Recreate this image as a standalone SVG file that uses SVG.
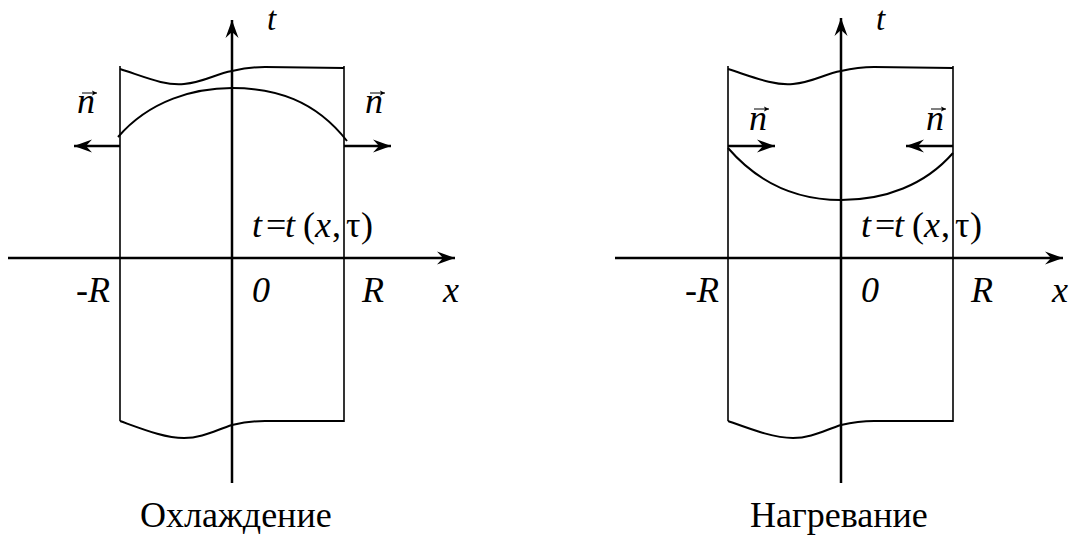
<svg xmlns="http://www.w3.org/2000/svg" width="1073" height="538" viewBox="0 0 1073 538">
<style>
.ax{stroke:#000;stroke-width:2.5;fill:none}
.wall{stroke:#000;stroke-width:1.6;fill:none}
.cur{stroke:#000;stroke-width:2;fill:none}
.vec{stroke:#000;stroke-width:2.5;fill:none}
.t{font-family:"Liberation Serif","Times New Roman",serif;font-size:36px;fill:#000}
.s{font-size:33px}
.i{font-style:italic}
.nv{stroke:#000;stroke-width:1;fill:none}
</style>
<defs>
<marker id="ah" markerUnits="userSpaceOnUse" viewBox="-18 -7 19 14" refX="0" refY="0" markerWidth="19" markerHeight="14" orient="auto">
<path d="M0,0 L-18,-6.5 L-12,0 L-18,6.5 Z" fill="#000"/>
</marker>
<marker id="sh" markerUnits="userSpaceOnUse" viewBox="-6 -3 7 6" refX="0" refY="0" markerWidth="7" markerHeight="6" orient="auto">
<path d="M0,0 L-5,-2.5 L-4,0 L-5,2.5 Z" fill="#000"/>
</marker>
</defs>
<g id="cooling">
<g id="cooling-body">
<path class="wall" d="M120,66 L120,421"/>
<path class="wall" d="M344,66 L344,422"/>
<path class="cur" d="M120,69 C145,77 165,86 184,84 C205,82 215,74 232,71 C245,68 252,67 265,67 L344,68"/>
<path class="cur" d="M120,421 C145,430 165,438 184,438 C202,438 216,430 232,425 C245,422 252,421 265,421 L344,421"/>
<path class="cur" d="M118,137 C150,100 195,88 232,88 C275,88 315,100 347,141"/>
</g>
<g id="cooling-axes">
<path class="ax" d="M232,483 L232,20" marker-end="url(#ah)"/>
<path class="ax" d="M8,258 L455,258" marker-end="url(#ah)"/>
</g>
<g id="cooling-normals">
<path class="vec" d="M120,146 L74,146" marker-end="url(#ah)"/>
<path class="vec" d="M344,146 L391,146" marker-end="url(#ah)"/>
<path class="nv" d="M82,93 L97,93" marker-end="url(#sh)"/>
<path class="nv" d="M370,93 L385,93" marker-end="url(#sh)"/>
<text class="t i" x="77" y="113">n</text>
<text class="t i" x="365" y="113">n</text>
</g>
<g id="cooling-labels">
<text class="t s i" x="267" y="30">t</text>
<text class="t"><tspan class="i" x="252" y="237">t</tspan><tspan x="266">=</tspan><tspan class="i" x="285">t</tspan><tspan x="303">(</tspan><tspan class="i" x="315">x</tspan><tspan x="332">,</tspan><tspan x="346">τ</tspan><tspan x="361">)</tspan></text>
<text class="t i" x="76" y="302">-R</text>
<text class="t i" x="252" y="302">0</text>
<text class="t i" x="362" y="302">R</text>
<text class="t i" x="443" y="302">x</text>
<text class="t" x="140" y="527">Охлаждение</text>
</g>
</g>
<g id="heating">
<g id="heating-body">
<path class="wall" d="M728,66 L728,421"/>
<path class="wall" d="M953,66 L953,422"/>
<path class="cur" d="M728,69 C753,77 774,86 793,84 C814,82 824,74 841,71 C854,68 861,67 874,67 L953,68"/>
<path class="cur" d="M728,421 C753,430 774,438 793,438 C811,438 825,430 841,425 C854,422 861,421 874,421 L953,421"/>
<path class="cur" d="M728,148 C760,185 800,200 841,200 C885,200 925,185 953,153"/>
</g>
<g id="heating-axes">
<path class="ax" d="M841,483 L841,18" marker-end="url(#ah)"/>
<path class="ax" d="M615,258 L1063,258" marker-end="url(#ah)"/>
</g>
<g id="heating-normals">
<path class="vec" d="M728,146 L775,146" marker-end="url(#ah)"/>
<path class="vec" d="M953,146 L906,146" marker-end="url(#ah)"/>
<path class="nv" d="M754,109 L769,109" marker-end="url(#sh)"/>
<path class="nv" d="M931,109 L946,109" marker-end="url(#sh)"/>
<text class="t i" x="749" y="130">n</text>
<text class="t i" x="926" y="130">n</text>
</g>
<g id="heating-labels">
<text class="t s i" x="876" y="30">t</text>
<text class="t"><tspan class="i" x="861" y="237">t</tspan><tspan x="875">=</tspan><tspan class="i" x="894">t</tspan><tspan x="912">(</tspan><tspan class="i" x="924">x</tspan><tspan x="941">,</tspan><tspan x="955">τ</tspan><tspan x="970">)</tspan></text>
<text class="t i" x="685" y="302">-R</text>
<text class="t i" x="861" y="302">0</text>
<text class="t i" x="971" y="302">R</text>
<text class="t i" x="1052" y="302">x</text>
<text class="t" x="750" y="527">Нагревание</text>
</g>
</g>
</svg>
